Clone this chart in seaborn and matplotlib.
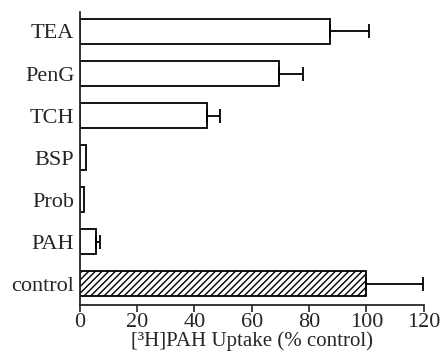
import numpy as np
import pandas as pd
import matplotlib
matplotlib.use("Agg")
import matplotlib.pyplot as plt
import seaborn as sns

# data
labels = ["TEA", "PenG", "TCH", "BSP", "Prob", "PAH", "control"]
uptake = [87.2, 69.5, 44.4, 2.0, 1.3, 5.8, 100.0]
sem = [13.7, 8.4, 4.4, 0.0, 0.0, 1.2, 19.8]

df = pd.DataFrame({"Compound": labels, "Uptake": uptake, "SEM": sem})

sns.set_style("ticks")
plt.rcParams["font.family"] = ["Liberation Serif", "DejaVu Serif"]
plt.rcParams["hatch.linewidth"] = 1.0

fig = plt.figure(figsize=(4.41, 3.57), dpi=100)
ax = fig.add_axes([0.181, 0.146, 0.78, 0.82])

sns.barplot(data=df, x="Uptake", y="Compound", orient="h", color="white",
            edgecolor="black", linewidth=1.3, width=0.6, ax=ax)

# control bar is hatched
ax.patches[-1].set_hatch("/////")

# one-sided error bars
ypos = np.arange(len(labels))
err = np.array(sem)
mask = err > 0
ax.errorbar(df["Uptake"][mask], ypos[mask], xerr=[np.zeros(mask.sum()), err[mask]],
            fmt="none", ecolor="black", elinewidth=1.3, capsize=5, capthick=1.3)

ax.set_xlim(0, 120)
ax.set_ylim(6.5, -0.46)
ax.set_xticks([0, 20, 40, 60, 80, 100, 120])
ax.tick_params(axis="x", labelsize=16, length=5, width=1.2, direction="out", pad=1)
ax.tick_params(axis="y", labelsize=16, length=0, pad=4)
ax.set_ylabel("")
ax.set_xlabel("[³H]PAH Uptake (% control)", fontsize=15, labelpad=-1)

sns.despine(ax=ax)
for s in ["left", "bottom"]:
    ax.spines[s].set_linewidth(1.3)

fig.savefig("out.png", dpi=100)
